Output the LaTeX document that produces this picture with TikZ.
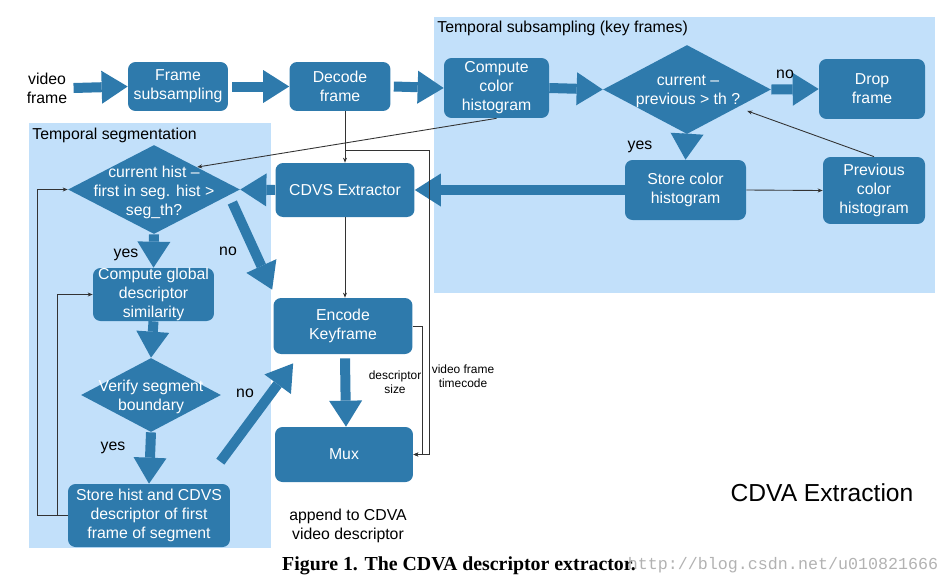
\documentclass[tikz,border=0pt]{standalone}
\usepackage{fontspec}
\setmainfont{Liberation Sans}
\newfontfamily\capfont{Liberation Serif}
\newfontfamily\wmfont{Liberation Mono}
\usepackage{tikz}
\usetikzlibrary{shapes.geometric,arrows.meta}
\definecolor{cdvablue}{RGB}{46,122,172}
\definecolor{cdvalight}{RGB}{194,224,250}
\tikzset{
  cbox/.style={rectangle, rounded corners=0.15cm, fill=cdvablue, text=white, align=center, font=\fontsize{9}{10.8}\selectfont, inner sep=0pt},
  cdia/.style={diamond, fill=cdvablue, inner sep=0pt},
  ctxt/.style={text=white, align=center, font=\fontsize{9}{10.8}\selectfont, inner sep=0pt},
  clabel/.style={align=center, font=\fontsize{9}{10.8}\selectfont, inner sep=0pt},
  csmall/.style={align=center, font=\fontsize{6.8}{8}\selectfont, inner sep=0pt},
  cregion/.style={fill=cdvalight},
  fatarrow/.style={line width=0.2cm, draw=cdvablue, -{Triangle[width=0.66cm, length=0.52cm, line width=0pt]}},
  thinarrow/.style={draw=black!80, line width=0.5pt, -{Stealth[length=1mm, width=0.8mm]}}
}

\begin{document}
\begin{tikzpicture}[x=0.02cm, y=-0.02cm]
\useasboundingbox (0,0) rectangle (945,585);
\fill[cregion] (434,17) rectangle (935,293);
\fill[cregion] (29,123) rectangle (271,548);
\node[clabel, anchor=west] (tsublbl) at (437,28) {Temporal subsampling (key frames)};
\node[clabel, anchor=west] (tseglbl) at (32,135) {Temporal segmentation};

\node[clabel] (vid) at (47,88) {video\\frame};
\node[cbox, minimum width=2cm, minimum height=0.98cm] (fsub) at (178,86.5) {Frame\\subsampling};
\node[cbox, minimum width=2.02cm, minimum height=0.98cm] (dec) at (340,86.5) {Decode\\frame};
\node[cbox, minimum width=2.1cm, minimum height=1.2cm] (cch) at (496.5,88) {Compute\\color\\histogram};
\node[cdia, minimum width=3.36cm, minimum height=1.78cm] (cmp) at (687,89.5) {};
\node[ctxt] (cmptxt) at (688,91.5) {current --\\previous > th ?};
\node[cbox, minimum width=2.12cm, minimum height=1.2cm] (drop) at (872,89) {Drop\\frame};
\node[cbox, minimum width=2.42cm, minimum height=1.2cm] (stch) at (685.5,190) {Store color\\histogram};
\node[cbox, minimum width=2.04cm, minimum height=1.34cm] (prev) at (874,190.5) {Previous\\color\\histogram};

\node[cbox, minimum width=2.78cm, minimum height=1.08cm] (cdvs) at (345,190) {CDVS Extractor};
\node[cbox, minimum width=2.78cm, minimum height=1.12cm] (enc) at (343,326) {Encode\\Keyframe};
\node[cbox, minimum width=2.76cm, minimum height=1.1cm] (mux) at (344,454.5) {Mux};

\node[cdia, minimum width=3.44cm, minimum height=1.78cm] (segdia) at (154,189.5) {};
\node[ctxt] (segtxt) at (154,192) {current hist --\\first in seg. hist >\\seg\_th?};
\node[cbox, minimum width=2.42cm, minimum height=1.06cm] (glob) at (153.5,294.5) {Compute global\\descriptor\\similarity};
\node[cdia, minimum width=2.8cm, minimum height=1.48cm] (ver) at (151,395) {};
\node[ctxt] (vertxt) at (151,397) {Verify segment\\boundary};
\node[cbox, minimum width=3.24cm, minimum height=1.26cm] (sthist) at (149,515.5) {Store hist and CDVS\\descriptor of first\\frame of segment};

\draw[fatarrow] (vid.east) ++(6,0) -- (fsub.west);
\draw[fatarrow] (fsub.east) ++(4,0) -- (dec.west);
\draw[fatarrow] (dec.east) ++(3,0) -- (cch.west);
\draw[fatarrow] (cch.east) -- (cmp.west);
\draw[fatarrow] (cmp.east) -- (drop.west);
\draw[fatarrow] (cmp.south) -- (stch.north);
\draw[fatarrow] (stch.west) -- (cdvs.east);
\draw[fatarrow] (cdvs.west) -- (segdia.east);
\draw[fatarrow] (segdia.south) -- (glob.north);
\draw[fatarrow] (glob.south) -- (ver.north);
\draw[fatarrow] (ver.south) -- (sthist.north);
\draw[fatarrow] ([shift={(-8,13)}]segdia.east) -- ([shift={(-1,-8)}]enc.north west);
\draw[fatarrow] ([shift={(-10,-22)}]sthist.north east) -- ([shift={(20,9)}]enc.south west);
\draw[fatarrow] (enc.south) ++(2,4) -- ([xshift=0.04cm]mux.north);

\draw[thinarrow] (cdvs.north |- dec.south) -- (cdvs.north);
\draw[thinarrow] (cdvs.north |- 0,150) -- ++(84,0) |- (mux.east);
\draw[thinarrow] (cdvs.south) -- (cdvs.south |- enc.north);
\draw[thinarrow] (enc.east) -- ++(10,0) |- (mux.east);
\draw[thinarrow] (cch.south) -- (segdia.north east);
\draw[thinarrow] (stch.east) -- (prev.west);
\draw[thinarrow] (prev.north) -- ([shift={(18,-1)}]cmp.south east);
\draw[thinarrow] (sthist.west) -- ++(-30,0) |- (segdia.west);
\draw[thinarrow] (sthist.west) ++(-10,0) |- (glob.west);

\node[clabel] (no1) at (785,74) {no};
\node[clabel] (yes1) at (640,147) {yes};
\node[clabel] (yes2) at (126,255) {yes};
\node[clabel] (no2) at (228,251) {no};
\node[clabel] (no3) at (245,393) {no};
\node[clabel] (yes3) at (113,448) {yes};
\node[csmall] (dsize) at (395,382) {descriptor\\size};
\node[csmall] (vtc) at (463,376) {video frame\\timecode};
\node[clabel] (app) at (348,526) {append to CDVA\\video descriptor};
\node[font=\fontsize{14}{16}\selectfont, inner sep=0pt] (title) at (822,493) {CDVA Extraction};
\node[font=\capfont\bfseries\fontsize{11.3}{13}\selectfont, inner sep=0pt] (cap) at (459,566) {Figure 1. The CDVA descriptor extractor.};
\node[font=\wmfont\fontsize{9.5}{11}\selectfont, text=black!30, inner sep=0pt] (wm) at (783,565) {http://blog.csdn.net/u010821666};
\end{tikzpicture}
\end{document}
